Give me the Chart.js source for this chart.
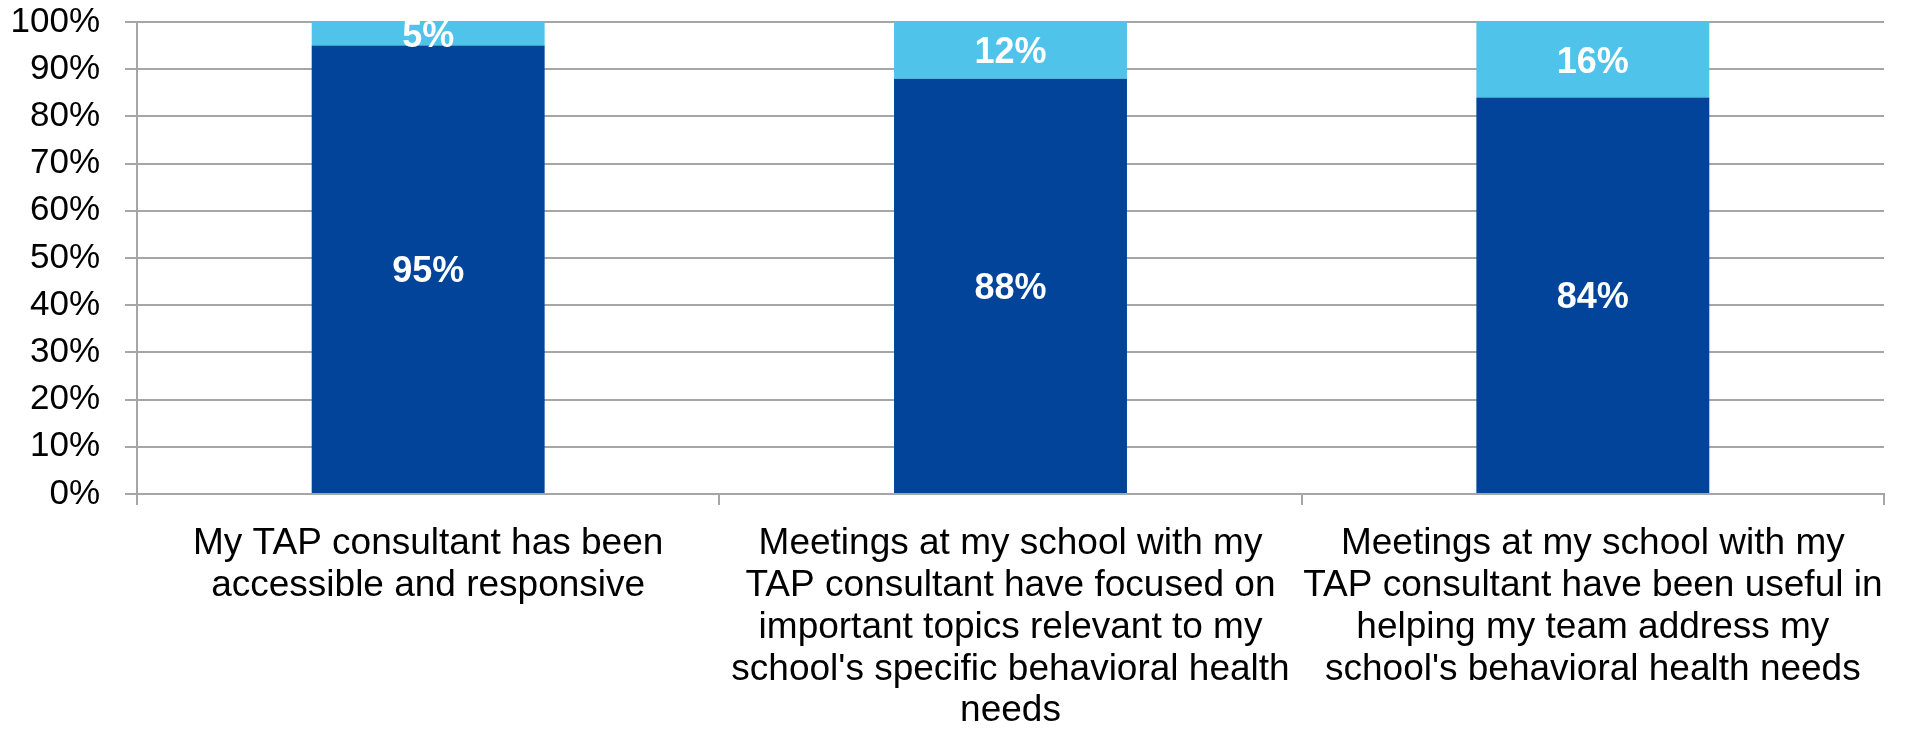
<!DOCTYPE html>
<html>
<head>
<meta charset="utf-8">
<script src="https://cdn.jsdelivr.net/npm/chart.js@4/dist/chart.umd.min.js"></script>
<style>
	html, body { margin: 0; padding: 0; background: #fff; }
	#wrap { width: 1908px; height: 736px; }
</style>
</head>
<body>
<div id="wrap"><canvas id="tap_chart" width="1908" height="736"></canvas></div>
<script>
var categories = [
		['My TAP consultant has been', 'accessible and responsive'],
		['Meetings at my school with my', 'TAP consultant have focused on', 'important topics relevant to my', "school's specific behavioral health", 'needs'],
		['Meetings at my school with my', 'TAP consultant have been useful in', 'helping my team address my', "school's behavioral health needs"]
	],
	agreeValues = [95, 88, 84],
	otherValues = [5, 12, 16],
	yTicks = [0, 10, 20, 30, 40, 50, 60, 70, 80, 90, 100],
	colors = ['#02449A', '#4FC3EA'],
	gridColor = '#a6a6a6',
	fontFamily = '"Liberation Sans", Arial, sans-serif';

// white percentage labels in the middle of each segment
var valueLabels = {
	id: 'valueLabels',
	afterDatasetsDraw: function(chart) {
		const ctx = chart.ctx;
		ctx.save();
		ctx.fillStyle = '#ffffff';
		ctx.font = 'bold 36px ' + fontFamily;
		ctx.textAlign = 'center';
		ctx.textBaseline = 'middle';
		chart.data.datasets.forEach(function(ds, i) {
			chart.getDatasetMeta(i).data.forEach(function(bar, j) {
				const p = bar.getProps(['x', 'y', 'base'], true);
				ctx.fillText(ds.data[j] + '%', p.x, (p.y + p.base) / 2 + 3);
			});
		});
		ctx.restore();
	}
};

var config = {
	type: 'bar',
	data: {
		labels: categories,
		datasets: [{
			data: agreeValues,
			backgroundColor: colors[0],
			barPercentage: 0.4,
			categoryPercentage: 1
		}, {
			data: otherValues,
			backgroundColor: colors[1],
			barPercentage: 0.4,
			categoryPercentage: 1
		}]
	},
	options: {
		responsive: false,
		animation: false,
		layout: {
			padding: { top: 22, right: 24, bottom: 0, left: 0 }
		},
		plugins: {
			legend: { display: false },
			tooltip: { enabled: false }
		},
		scales: {
			x: {
				stacked: true,
				grid: {
					drawOnChartArea: false,
					drawTicks: true,
					tickLength: 11,
					color: gridColor,
					lineWidth: 2
				},
				border: { display: true, color: gridColor, width: 2 },
				ticks: {
					color: '#000',
					padding: 18,
					maxRotation: 0,
					autoSkip: false,
					font: { family: fontFamily, size: 37, lineHeight: 1.13 }
				},
				afterFit: function(scale) {
					scale.height = 242;
					scale.paddingLeft = 0;
					scale.paddingRight = 0;
				}
			},
			y: {
				stacked: true,
				min: 0,
				max: 100,
				afterBuildTicks: function(scale) {
					scale.ticks = yTicks.map(function(v) { return { value: v }; });
				},
				grid: {
					color: gridColor,
					lineWidth: 2,
					tickLength: 12
				},
				border: { display: true, color: gridColor, width: 2 },
				ticks: {
					color: '#000',
					padding: 25,
					autoSkip: false,
					font: { family: fontFamily, size: 35 },
					callback: function(v) { return v + '%'; }
				},
				afterFit: function(scale) {
					scale.width = 137;
					scale.paddingTop = 0;
					scale.paddingBottom = 0;
				}
			}
		}
	},
	plugins: [valueLabels]
};

new Chart(document.getElementById('tap_chart').getContext('2d'), config);
</script>
</body>
</html>
